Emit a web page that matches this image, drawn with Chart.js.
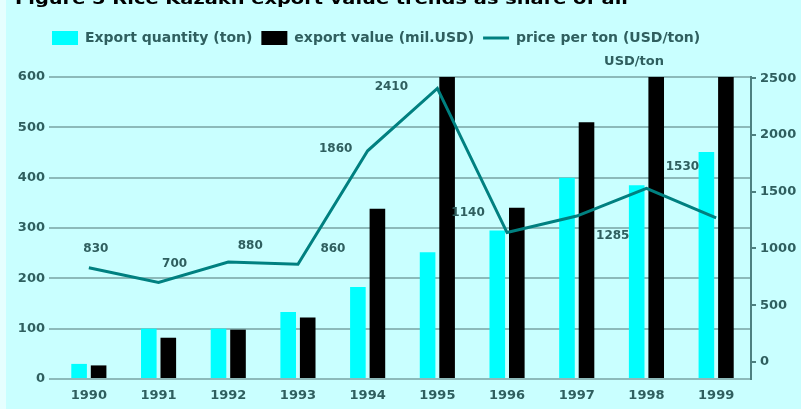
<!DOCTYPE html>
<html lang="en">
<head>
    <meta charset="UTF-8">
    <title>Rice export</title>
    <style>
        body {
            margin: 0;
            background: #c9ffff;
        }

        .chart-box {
            width: 801px;
            height: 409px;
        }
    </style>
</head>
<body>
    <div class="chart-box">
        <canvas id="riceChart"></canvas>
    </div>
    <script src="https://cdn.jsdelivr.net/npm/chart.js@4.4.1/dist/chart.umd.min.js"></script>
    <script>
        // 연도별 수출량, 수출액, 톤당 가격
        const years = ['1990', '1991', '1992', '1993', '1994', '1995', '1996', '1997', '1998', '1999']
        const exportQuantity = [30, 100, 100, 133, 183, 252, 295, 400, 385, 451]
        const exportValue = [27, 82, 98, 122, 338, 600, 340, 510, 600, 600]
        const pricePerTon = [830, 700, 880, 860, 1860, 2410, 1140, 1285, 1530, 1270]
        const leftTicks = [0, 100, 200, 300, 400, 500, 600]
        const rightTicks = [0, 500, 1000, 1500, 2000, 2500]

        const titleText = 'Figure 5 Rice Kazakh export value trends as share of all'
        const textColor = '#2f5f5f'

        Chart.defaults.font.family = 'DejaVu Sans'
        Chart.defaults.font.weight = 'bold'
        Chart.defaults.font.size = 13
        Chart.defaults.color = textColor

        // 가격 라벨 위치 (점 기준 이동량)
        const labelShift = [[7, -19], [16, -19], [22, -16], [35, -15], [-32, -2], [-46, -1], [-39, -20], [36, 20], [36, -21], null]

        const decor = {
            id: 'decor',
            beforeInit(chart) {
                // 범례 높이 고정
                const fit = chart.legend.fit
                chart.legend.fit = function () {
                    fit.call(this)
                    this.height = 55
                }
            },
            afterLayout(chart) {
                // 범례를 오른쪽으로 조금 이동
                chart.legend.left += 43
                chart.legend.right += 43
            },
            beforeDraw(chart) {
                const ctx = chart.ctx
                ctx.save()
                ctx.fillStyle = '#c9ffff'
                ctx.fillRect(0, 0, chart.width, chart.height)
                ctx.fillStyle = '#e6ffff'
                ctx.fillRect(0, 0, 6, chart.height)
                ctx.restore()
            },
            afterDatasetsDraw(chart) {
                const ctx = chart.ctx
                const points = chart.getDatasetMeta(2).data
                ctx.save()
                ctx.font = 'bold 12px DejaVu Sans'
                ctx.fillStyle = textColor
                ctx.textAlign = 'center'
                ctx.textBaseline = 'middle'
                points.forEach((p, i) => {
                    if (!labelShift[i]) return
                    ctx.fillText(pricePerTon[i], p.x + labelShift[i][0], p.y + labelShift[i][1])
                })
                ctx.restore()
            },
            afterDraw(chart) {
                const ctx = chart.ctx
                ctx.save()
                // 제목 (위쪽이 잘려 있음)
                ctx.font = 'bold 15px DejaVu Sans'
                ctx.fillStyle = '#000'
                ctx.textBaseline = 'alphabetic'
                const w = ctx.measureText(titleText).width
                ctx.translate(15, 4)
                ctx.scale(613 / w, 1)
                ctx.fillText(titleText, 0, 0)
                ctx.restore()

                ctx.save()
                ctx.font = 'bold 13px DejaVu Sans'
                ctx.fillStyle = textColor
                ctx.textAlign = 'center'
                ctx.textBaseline = 'middle'
                ctx.fillText('USD/ton', 634, 62)
                ctx.restore()
            }
        }

        new Chart(document.querySelector('#riceChart'), {
            type: 'bar',
            data: {
                labels: years,
                datasets: [
                    {
                        label: 'Export quantity (ton)',
                        data: exportQuantity,
                        backgroundColor: '#00ffff',
                        borderWidth: 0,
                        pointStyle: 'rect',
                        yAxisID: 'y',
                        order: 2,
                    },
                    {
                        label: 'export value (mil.USD)',
                        data: exportValue,
                        backgroundColor: '#000000',
                        borderWidth: 0,
                        pointStyle: 'rect',
                        yAxisID: 'y',
                        order: 2,
                    },
                    {
                        type: 'line',
                        label: 'price per ton (USD/ton)',
                        data: pricePerTon,
                        borderColor: '#008080',
                        borderWidth: 3,
                        pointRadius: 0,
                        pointBorderWidth: 3,
                        pointStyle: 'line',
                        tension: 0,
                        yAxisID: 'y1',
                        order: 1,
                    },
                ],
            },
            options: {
                responsive: true,
                maintainAspectRatio: false,
                animation: false,
                layout: {
                    padding: { left: 0, top: 22, right: 0, bottom: 0 },
                },
                datasets: {
                    bar: {
                        categoryPercentage: 0.56,
                        barPercentage: 0.8,
                    },
                },
                plugins: {
                    legend: {
                        align: 'start',
                        labels: {
                            usePointStyle: true,
                            pointStyleWidth: 26,
                            boxHeight: 14,
                            padding: 9,
                            color: textColor,
                            font: { size: 14, weight: 'bold' },
                            sort: (a, b) => a.datasetIndex - b.datasetIndex,
                        },
                    },
                    tooltip: { enabled: false },
                },
                scales: {
                    x: {
                        grid: { display: false, drawTicks: false },
                        border: { display: false },
                        ticks: { padding: 9 },
                        afterFit(scale) { scale.height = 30 },
                    },
                    y: {
                        position: 'left',
                        min: 0,
                        max: 600,
                        afterBuildTicks(scale) {
                            scale.ticks = leftTicks.map(v => ({ value: v }))
                        },
                        grid: { color: '#8cbaba', lineWidth: 2, tickLength: 5 },
                        border: { display: false },
                        ticks: { padding: 4 },
                        afterFit(scale) { scale.width = 54 },
                    },
                    y1: {
                        position: 'right',
                        min: -150,
                        max: 2510,
                        afterBuildTicks(scale) {
                            scale.ticks = rightTicks.map(v => ({ value: v }))
                        },
                        grid: { drawOnChartArea: false, color: '#4d8080', lineWidth: 2, tickLength: 5 },
                        border: { display: true, color: '#4d8080', width: 2 },
                        ticks: { padding: 4, callback: v => String(v) },
                        afterFit(scale) { scale.width = 50 },
                    },
                },
            },
            plugins: [decor],
        })
    </script>
</body>
</html>
